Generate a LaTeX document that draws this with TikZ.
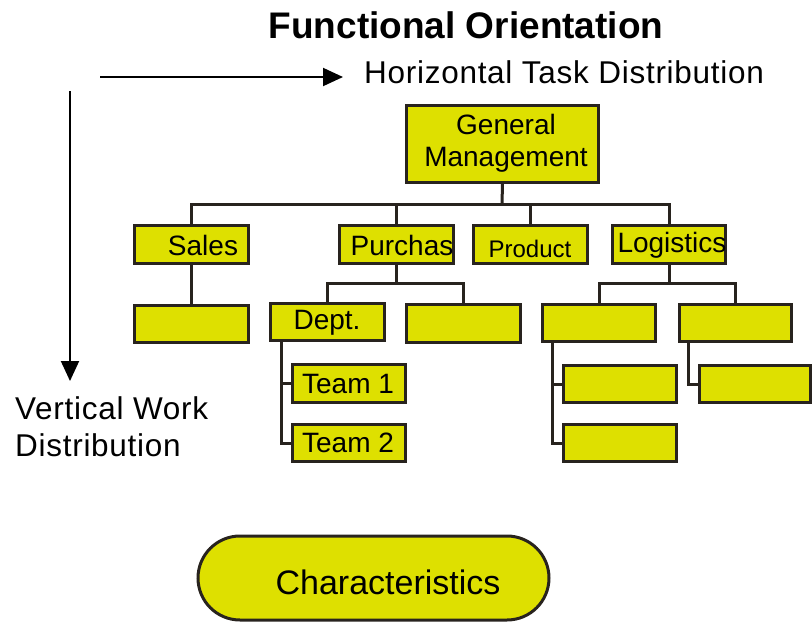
\documentclass[tikz,border=0pt]{standalone}
\usepackage{fontspec}
\setmainfont{Liberation Sans}
\usetikzlibrary{arrows.meta}
\definecolor{boxfill}{RGB}{222,224,0}
\definecolor{boxline}{RGB}{40,35,30}
\begin{document}
\begin{tikzpicture}[x=1pt,y=-1pt,
  orgbox/.style={draw=boxline, fill=boxfill, line width=3pt, minimum width=114pt, minimum height=38pt, inner sep=0pt},
  boxtext/.style={font=\fontsize{28}{32}\selectfont, inner sep=0pt},
  conn/.style={draw=boxline, line width=3pt},
  axis/.style={draw=black, line width=2pt, -{Triangle[length=20pt,width=18pt]}},
  bigtext/.style={font=\fontsize{31.5}{37.5}\selectfont\addfontfeatures{LetterSpace=2.3}, inner sep=0pt}]
\useasboundingbox (0,0) rectangle (812,622);

% title and axes
\node[font=\fontsize{37}{42}\bfseries\selectfont, inner sep=0pt] (title) at (466,25) {Functional Orientation};
\coordinate (hstart) at (100,77);
\coordinate (hend) at (343,77);
\draw[axis] (hstart) -- (hend);
\node[bigtext, anchor=west] (htext) at (364,72) {Horizontal Task Distribution};
\coordinate (vstart) at (70,91);
\coordinate (vend) at (70,381);
\draw[axis] (vstart) -- (vend);
\node[bigtext, anchor=north west, align=left] (vtext) at (15,396) {Vertical Work\\Distribution};

% top
\node[orgbox, minimum width=192pt, minimum height=77pt] (gm) at (502.5,144) {};
\node[boxtext, align=center] (gmtext) at (506,143) {General\\Management};

% level 1
\node[orgbox] (sales) at (191.5,244.5) {};
\node[boxtext] (salestext) at (203,245) {Sales};
\node[orgbox] (purch) at (396.5,244.5) {};
\node[boxtext] (purchtext) at (402,245) {Purchas};
\node[orgbox] (prod) at (530.5,244) {};
\node[boxtext, font=\fontsize{24}{28}\selectfont] (prodtext) at (530,249) {Product};
\node[orgbox, minimum width=113pt] (logi) at (669,244) {};
\node[boxtext] (logitext) at (672,245) {Logistics};

% level 2
\node[orgbox, minimum height=37pt] (salesc) at (191.5,324) {};
\node[orgbox, minimum height=37pt] (dept) at (327.5,322) {};
\node[boxtext] (depttext) at (327,323) {Dept.};
\node[orgbox, minimum height=38pt] (pc) at (463.5,323.5) {};
\node[orgbox, minimum width=113pt, minimum height=37pt] (la) at (599,323) {};
\node[orgbox, minimum width=112pt, minimum height=37pt] (lb) at (735.5,323) {};

% level 3
\node[orgbox, minimum width=113pt] (team1) at (349,383.5) {};
\node[boxtext] (t1text) at (348,384) {Team 1};
\node[orgbox, minimum width=113pt, minimum height=37pt] (team2) at (349,443) {};
\node[boxtext] (t2text) at (348,443) {Team 2};
\node[orgbox, minimum width=113pt, minimum height=37pt] (la1) at (620,384) {};
\node[orgbox, minimum width=113pt, minimum height=37pt] (la2) at (620,443) {};
\node[orgbox, minimum width=111pt, minimum height=37pt] (lb1) at (754.5,384) {};

% connectors
\coordinate (gmbar) at (502,204);
\draw[conn] (gm.south) -- (gmbar);
\draw[conn] (sales.north) |- (gmbar) -| (logi.north);
\draw[conn] (purch.north) -- (purch.north |- gmbar);
\draw[conn] (prod.north) -- (prod.north |- gmbar);
\draw[conn] (sales.south) -- (salesc.north);

\coordinate (pbar) at (396.5,283);
\draw[conn] (purch.south) -- (pbar);
\draw[conn] (dept.north) |- (pbar) -| (pc.north);
\coordinate (lbar) at (669,283);
\draw[conn] (logi.south) -- (lbar);
\draw[conn] (la.north) |- (lbar) -| (lb.north);

\draw[conn] ([xshift=12pt]dept.south west) |- (team1.west);
\draw[conn] ([xshift=12pt]dept.south west) |- (team2.west);
\draw[conn] ([xshift=11pt]la.south west) |- (la1.west);
\draw[conn] ([xshift=11pt]la.south west) |- (la2.west);
\draw[conn] ([xshift=10pt]lb.south west) |- (lb1.west);

% characteristics
\node[draw=boxline, fill=boxfill, line width=3pt, minimum width=351pt, minimum height=84pt, rounded corners=42pt, inner sep=0pt] (charbox) at (373.5,578) {};
\node[font=\fontsize{34}{40}\selectfont, inner sep=0pt] (chartext) at (388,582) {Characteristics};
\end{tikzpicture}
\end{document}
